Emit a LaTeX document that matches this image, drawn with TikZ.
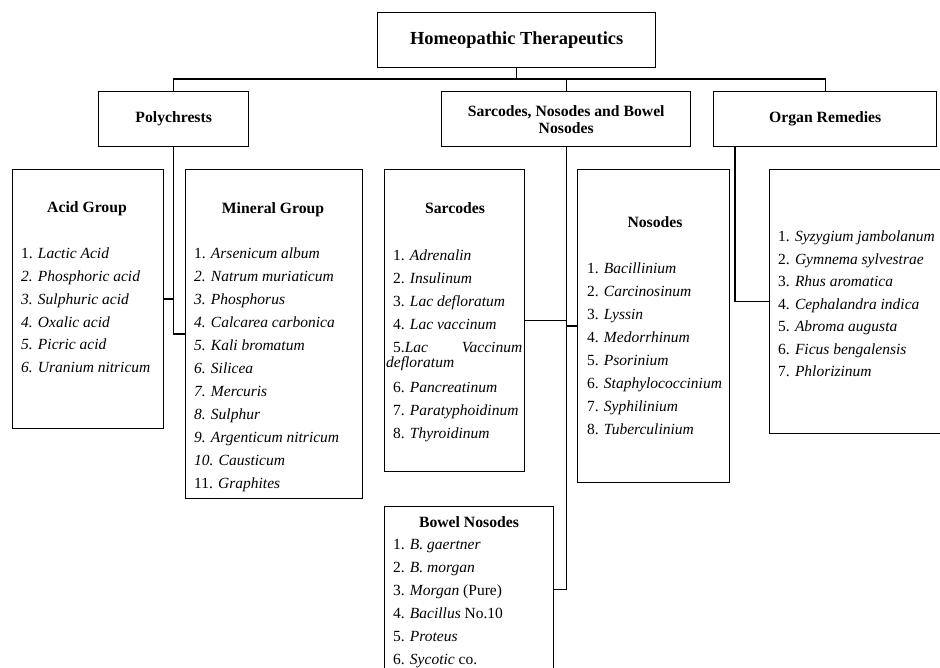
\documentclass[tikz,border=0pt]{standalone}
\usepackage{fontspec}
\setmainfont{Liberation Serif}

\tikzset{
  boxframe/.style={draw, line width=1.4pt, inner sep=0pt, anchor=north west},
  headbox/.style={boxframe, minimum height=55pt, align=center, font=\fontsize{15.7}{17}\selectfont\bfseries},
  grouptitle/.style={anchor=base, inner sep=0pt, font=\fontsize{15.7}{17}\selectfont\bfseries},
  itemlist/.style={anchor=base west, inner sep=0pt, align=left, font=\fontsize{15.5}{23}\selectfont},
  link/.style={line width=1.4pt},
}

\begin{document}
\begin{tikzpicture}[x=1pt, y=-1pt]
        \useasboundingbox (0,0) rectangle (940,668);
        \clip (0,0) rectangle (940,668);

        \node[boxframe, minimum width=278pt, minimum height=55pt, font=\fontsize{18.4}{20}\selectfont\bfseries] (therapeutics) at (377,12) {Homeopathic Therapeutics};

        \node[headbox, minimum width=150pt] (polychrests) at (98,91) {Polychrests};
        \node[headbox, minimum width=249pt] (sarcnos) at (441,91) {Sarcodes, Nosodes and Bowel\\Nosodes};
        \node[headbox, minimum width=223pt] (organ) at (713,91) {Organ Remedies};

        % group boxes
        \node[boxframe, minimum width=151pt, minimum height=259pt] (acid) at (12,169) {};
        \node[boxframe, minimum width=177pt, minimum height=329pt] (mineral) at (185,169) {};
        \node[boxframe, minimum width=140pt, minimum height=302pt] (sarcodes) at (384,169) {};
        \node[boxframe, minimum width=152pt, minimum height=313pt] (nosodes) at (577,169) {};
        \node[boxframe, minimum width=169pt, minimum height=166pt] (bowel) at (384,506) {};
        \node[boxframe, minimum width=177pt, minimum height=264pt] (organlist) at (769,169) {};

        % lists sit on the baseline of their last line
        \node[grouptitle] (acidtitle) at (87,213) {Acid Group};
        \node[itemlist] (acidlist) at (21,373) {
            1. \textit{Lactic Acid}\\
            \textit{2. Phosphoric acid}\\
            \textit{3. Sulphuric acid}\\
            \textit{4. Oxalic acid}\\
            \textit{5. Picric acid}\\
            \textit{6. Uranium nitricum}
        };

        \node[grouptitle] (mineraltitle) at (273,214) {Mineral Group};
        \node[itemlist] (minerallist) at (194,488) {
            1. \textit{Arsenicum album}\\
            \textit{2. Natrum muriaticum}\\
            \textit{3. Phosphorus}\\
            \textit{4. Calcarea carbonica}\\
            \textit{5. Kali bromatum}\\
            \textit{6. Silicea}\\
            \textit{7. Mercuris}\\
            \textit{8. Sulphur}\\
            \textit{9. Argenticum nitricum}\\
            \textit{10. Causticum}\\
            11. \textit{Graphites}
        };

        \node[grouptitle] (sarcodestitle) at (455,214) {Sarcodes};
        \node[itemlist] (sarcodeslist) at (393,438) {
            1. \textit{Adrenalin}\\
            2. \textit{Insulinum}\\
            3. \textit{Lac defloratum}\\
            4. \textit{Lac vaccinum}\\
            \makebox[129pt][l]{5.\textit{Lac}\hfill\textit{Vaccinum}}\\[-8pt]
            \hspace*{-7pt}\textit{defloratum}\\[2pt]
            6. \textit{Pancreatinum}\\
            7. \textit{Paratyphoidinum}\\
            8. \textit{Thyroidinum}
        };

        \node[grouptitle] (nosodestitle) at (655,228) {Nosodes};
        \node[itemlist] (nosodeslist) at (587,434) {
            1. \textit{Bacillinium}\\
            2. \textit{Carcinosinum}\\
            3. \textit{Lyssin}\\
            4. \textit{Medorrhinum}\\
            5. \textit{Psorinium}\\
            6. \textit{Staphylococcinium}\\
            7. \textit{Syphilinium}\\
            8. \textit{Tuberculinium}
        };

        \node[grouptitle] (boweltitle) at (469,527) {Bowel Nosodes};
        \node[itemlist] (bowellist) at (393,664) {
            1. \textit{B. gaertner}\\
            2. \textit{B. morgan}\\
            3. \textit{Morgan} (Pure)\\
            4. \textit{Bacillus} No.10\\
            5. \textit{Proteus}\\
            6. \textit{Sycotic} co.
        };

        \node[itemlist, font=\fontsize{15.5}{22.5}\selectfont] (organitems) at (778,377) {
            1. \textit{Syzygium jambolanum}\\
            2. \textit{Gymnema sylvestrae}\\
            3. \textit{Rhus aromatica}\\
            4. \textit{Cephalandra indica}\\
            5. \textit{Abroma augusta}\\
            6. \textit{Ficus bengalensis}\\
            7. \textit{Phlorizinum}
        };

        % connectors
        \coordinate (bus) at (0,79);
        \draw[link] (therapeutics.south) -- (therapeutics.south |- bus);
        \draw[link] (polychrests.north) |- (organ.north |- bus) -- (organ.north);
        \draw[link] (sarcnos.north) -- (sarcnos.north |- bus);

        \draw[link] (polychrests.south) |- (mineral.west);
        \draw[link] (acid.east) -- (acid.east -| polychrests.south);

        \draw[link] (sarcnos.south) |- (bowel.east);
        \draw[link] (sarcodes.east) -- (sarcodes.east -| sarcnos.south);
        \draw[link] (nosodes.west) -- (nosodes.west -| sarcnos.south);

        \draw[link] ([xshift=22pt]organ.south west) |- (organlist.west);
\end{tikzpicture}
\end{document}
